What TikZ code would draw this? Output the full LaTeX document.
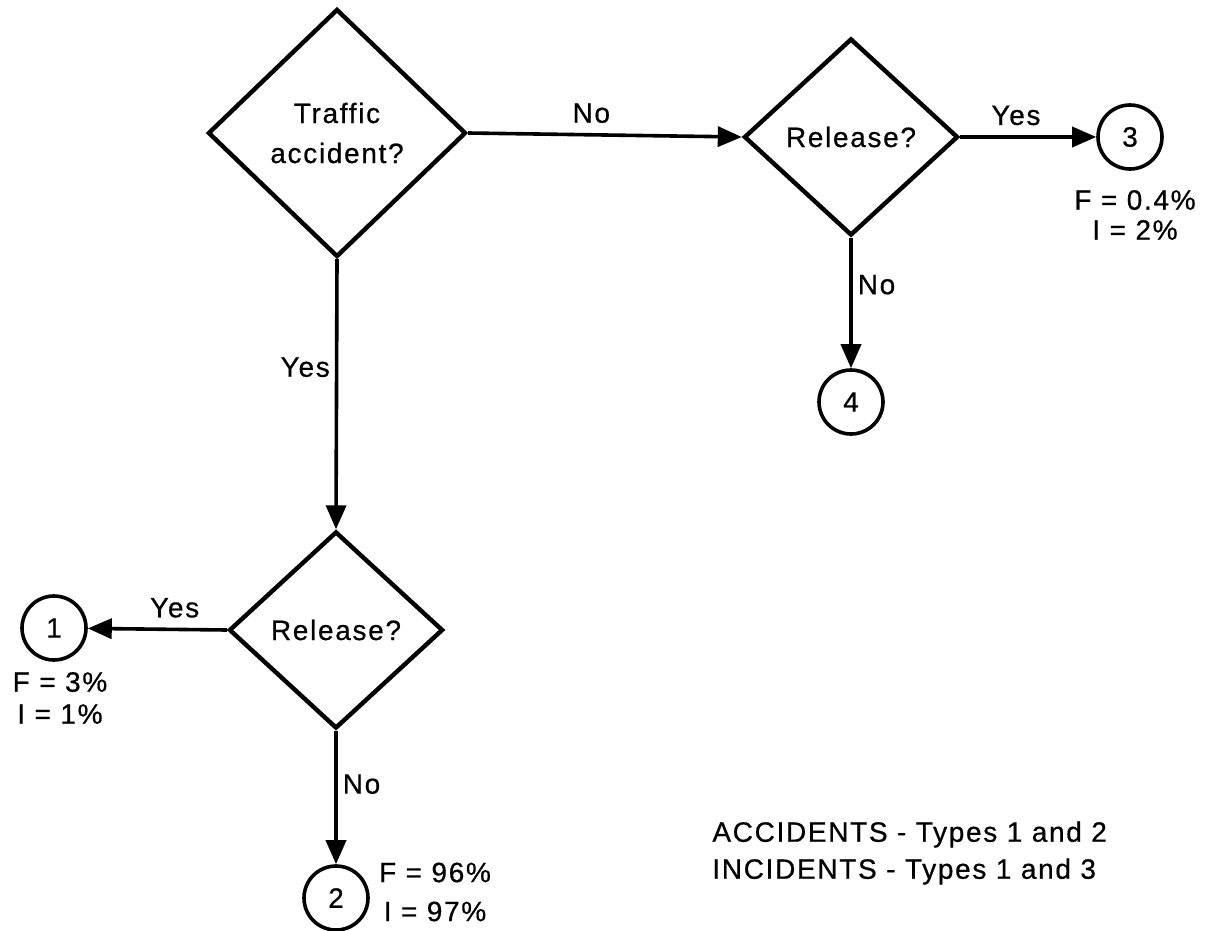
\documentclass[tikz,border=0pt]{standalone}
\usepackage{fontspec}
\setmainfont{Liberation Sans}[LetterSpace=6,FakeBold=0.6]
\usetikzlibrary{shapes.geometric,arrows.meta}
\begin{document}
\begin{tikzpicture}[x=0.5pt,y=-0.5pt,
  every node/.style={font=\fontsize{14}{16}\selectfont},
  ask/.style={draw,shape=diamond,line width=2.2pt,inner sep=0pt,minimum width=107pt,minimum height=98.5pt,align=center},
  stop/.style={draw,circle,line width=1.8pt,minimum size=32pt,inner sep=0pt},
  flow/.style={line width=1.8pt,-{Triangle[length=12pt,width=10pt]}},
  tag/.style={inner sep=2.5pt},
  share/.style={inner sep=0pt,align=center}]
\useasboundingbox (0,0) rectangle (1210,931);
\node[ask,minimum width=129pt,minimum height=124pt,font=\fontsize{14}{20}\selectfont] (traffic) at (337,133) {Traffic\\accident?};
\node[ask] (relright) at (851,137) {Release?};
\node[ask] (relleft) at (336,630) {Release?};
\node[stop] (n1) at (54,628) {1};
\node[stop] (n2) at (336,898) {2};
\node[stop] (n3) at (1130,137) {3};
\node[stop] (n4) at (851,402) {4};
\node[share] (f1) at (60,698) {F = 3\%\\I = 1\%};
\node[share] (f2) at (435,892) {F = 96\%\\[3.5pt]I = 97\%};
\node[share] (f3) at (1135,215) {F = 0.4\%\\[-1pt]I = 2\%};
\draw[flow] (traffic.east) -- node[tag,above=2.5pt,pos=0.45] {No} (relright.west);
\draw[flow] (traffic.south) -- node[tag,left,pos=0.4] {Yes} (relleft.north);
\draw[flow] (relright.east) -- node[tag,above=2.5pt,pos=0.41] {Yes} (n3);
\draw[flow] (relright.south) -- node[tag,right,pos=0.36] {No} (n4);
\draw[flow] (relleft.west) -- node[tag,above=2.5pt,pos=0.375] {Yes} (n1);
\draw[flow] (relleft.south) -- node[tag,right,pos=0.4] {No} (n2);
\node[share,align=left,anchor=west,font=\fontsize{14}{18.5}\selectfont] (legend) at (712,853) {ACCIDENTS - Types 1 and 2\\INCIDENTS - Types 1 and 3};
\end{tikzpicture}
\end{document}
